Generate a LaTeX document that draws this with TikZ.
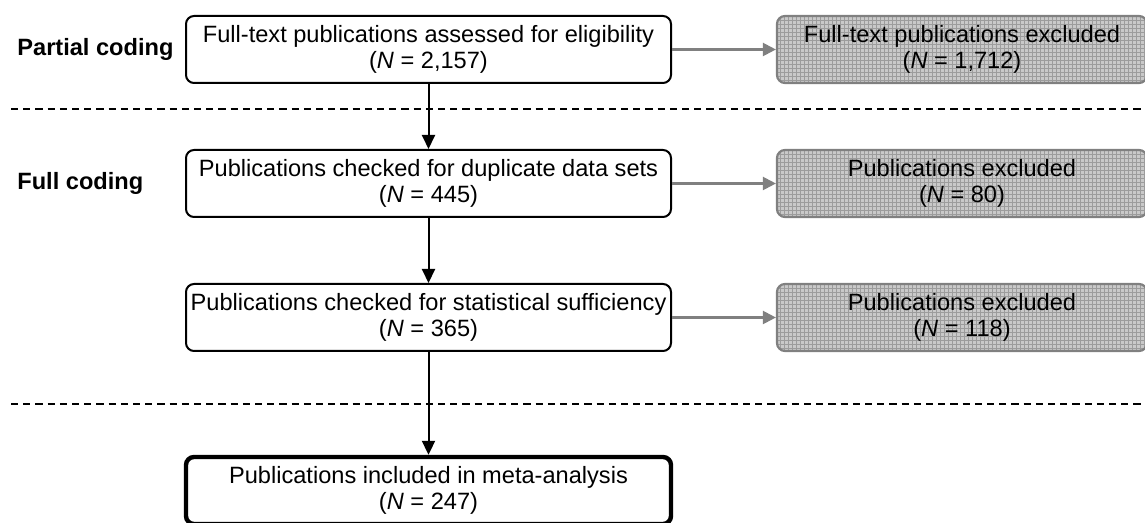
\documentclass[tikz,border=0pt]{standalone}
\usepackage{fontspec}
\setmainfont{Liberation Sans}
\usetikzlibrary{arrows.meta}
\definecolor{exclgray}{HTML}{808080}
\definecolor{gridbase}{HTML}{C9C9C9}
\definecolor{gridline}{HTML}{9C9C9C}
\begin{document}
\begin{tikzpicture}[x=0.5pt,y=-0.5pt,
  font=\fontsize{11.8pt}{13pt}\selectfont,
  stagebox/.style={draw=black, line width=1pt, rounded corners=4pt,
    minimum width=242.5pt, minimum height=33.5pt, align=center, inner sep=0pt},
  finalbox/.style={stagebox, line width=2.2pt},
  exclbox/.style={draw=exclgray, line width=1.1pt, rounded corners=4pt,
    minimum width=185pt, minimum height=33.5pt, align=center, inner sep=0pt,
    path picture={
      \fill[gridbase] (path picture bounding box.south west) rectangle (path picture bounding box.north east);
      \draw[gridline, line width=0.35pt] (path picture bounding box.south west) grid[step=2pt] (path picture bounding box.north east);
    }},
  phase/.style={font=\fontsize{11.8pt}{13pt}\selectfont\bfseries, anchor=west, inner sep=0pt},
  flow/.style={line width=1pt, -{Triangle[length=7pt,width=6.5pt]}},
  exflow/.style={draw=exclgray, line width=1.1pt, -{Triangle[length=6.5pt,width=6.5pt]}, exclgray},
  divider/.style={line width=1pt, dash pattern=on 3.6pt off 2.5pt}]

\useasboundingbox (0,0) rectangle (1145,523);
\clip (0,0) rectangle (1145,523);

% phase labels
\node[phase] (lp) at (17,49) {Partial coding};
\node[phase] (lf) at (17,183) {Full coding};

% main stages
\node[stagebox] (n1) at (428.5,49.5) {Full-text publications assessed for eligibility\\(\textit{N} = 2,157)};
\node[stagebox] (n2) at (428.5,183.5) {Publications checked for duplicate data sets\\(\textit{N} = 445)};
\node[stagebox] (n3) at (428.5,317.5) {Publications checked for statistical sufficiency\\(\textit{N} = 365)};
\node[finalbox] (n4) at (428.5,490.5) {Publications included in meta-analysis\\(\textit{N} = 247)};

% exclusions
\node[exclbox] (x1) at (962,49.5) {Full-text publications excluded\\(\textit{N} = 1,712)};
\node[exclbox] (x2) at (962,183.5) {Publications excluded\\(\textit{N} = 80)};
\node[exclbox] (x3) at (962,317.5) {Publications excluded\\(\textit{N} = 118)};

% phase dividers
\coordinate (d1a) at (11,109);
\coordinate (d1b) at (1145,109);
\coordinate (d2a) at (11,404);
\coordinate (d2b) at (1145,404);
\draw[divider] (d1a) -- (d1b);
\draw[divider] (d2a) -- (d2b);

% flow
\draw[flow] (n1) -- (n2);
\draw[flow] (n2) -- (n3);
\draw[flow] (n3) -- (n4);
\draw[exflow] (n1) -- (x1);
\draw[exflow] (n2) -- (x2);
\draw[exflow] (n3) -- (x3);
\end{tikzpicture}
\end{document}
